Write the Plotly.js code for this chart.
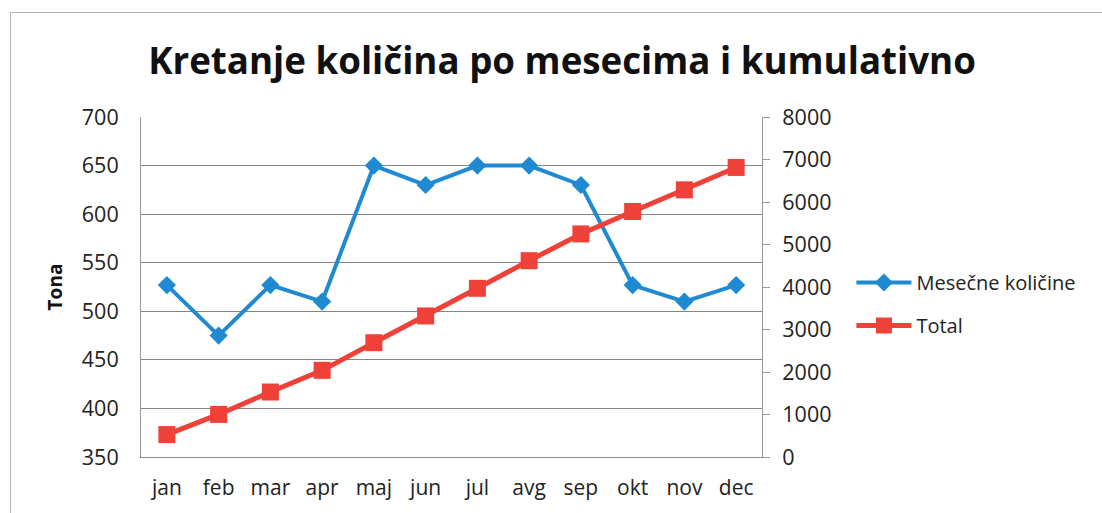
<!DOCTYPE html>
<html>
<head>
<meta charset="utf-8">
<script src="https://cdn.plot.ly/plotly-3.0.1.min.js"></script>
<style>
html,body{margin:0;padding:0;background:#fff;}
#wrap{position:relative;width:1102px;height:513px;}
#chart{position:absolute;left:0;top:0;width:1102px;height:513px;}
#frame{position:absolute;left:10px;top:12px;width:1100px;height:510px;border:1px solid #b5b5b5;pointer-events:none;}
</style>
</head>
<body>
<div id="wrap"><div id="chart"></div><div id="frame"></div></div>
<script>
const months = ["jan","feb","mar","apr","maj","jun","jul","avg","sep","okt","nov","dec"];
const monthly = [527, 475, 527, 510, 650, 630, 650, 650, 630, 527, 510, 527];
const total = [527, 1002, 1529, 2039, 2689, 3319, 3969, 4619, 5249, 5776, 6286, 6813];
const seriesNames = ["Mesečne količine", "Total"];
const titleText = "Kretanje količina po mesecima i kumulativno";
const yTitle = "Tona";

const FONT = "Open Sans, sans-serif";

const traces = [
  {
    x: months, y: monthly, name: seriesNames[0], type: "scatter", mode: "lines+markers",
    yaxis: "y", legendgroup: "a",
    line: {color: "#1f8ad2", width: 4},
    marker: {symbol: "diamond", size: 14, color: "#1f8ad2"}
  },
  {
    x: months, y: total, name: seriesNames[1], type: "scatter", mode: "lines+markers",
    yaxis: "y2", legendgroup: "b",
    line: {color: "#ef4138", width: 5},
    marker: {symbol: "square", size: 17, color: "#ef4138"}
  }
];

const layout = {
  width: 1102, height: 513,
  margin: {l: 141, r: 340, t: 117, b: 56, pad: 0},
  paper_bgcolor: "#fff", plot_bgcolor: "#fff",
  font: {family: FONT, color: "#222", size: 21},
  title: {text: titleText, font: {family: FONT, size: 36.7, color: "#111", weight: "bold"},
          x: 0.678, xanchor: "center", y: 0.88, yanchor: "middle", xref: "paper", yref: "container"},
  showlegend: true,
  legend: {x: 1.144, xanchor: "left", y: 0.45, yanchor: "middle",
           font: {family: FONT, size: 20, color: "#222"},
           traceorder: "grouped", tracegroupgap: 14, itemwidth: 55, bgcolor: "rgba(0,0,0,0)"},
  xaxis: {
    type: "category", range: [-0.5, 11.5], autorange: false,
    showgrid: false, zeroline: false, showline: true, linecolor: "#8a8a8a", ticks: "",
    tickfont: {family: FONT, size: 21, color: "#222"}, ticklabelstandoff: 12, fixedrange: true
  },
  yaxis: {
    range: [350, 700], dtick: 50, tick0: 350, showgrid: true, gridcolor: "#858585", gridwidth: 1,
    zeroline: false, showline: true, linecolor: "#999", ticks: "",
    tickfont: {family: FONT, size: 21.5, color: "#222"}, ticklabelstandoff: 17,
    title: {text: yTitle, font: {family: FONT, size: 19, color: "#111", weight: "bold"}, standoff: 14}
  },
  yaxis2: {
    range: [0, 8000], dtick: 1000, tick0: 0, overlaying: "y", side: "right",
    showgrid: false, zeroline: false, showline: true, linecolor: "#999",
    ticks: "outside", ticklen: 7, tickcolor: "#999",
    tickfont: {family: FONT, size: 21.5, color: "#222"}, ticklabelstandoff: 8
  }
};

Plotly.newPlot("chart", traces, layout, {staticPlot: true, displayModeBar: false});
</script>
</body>
</html>
